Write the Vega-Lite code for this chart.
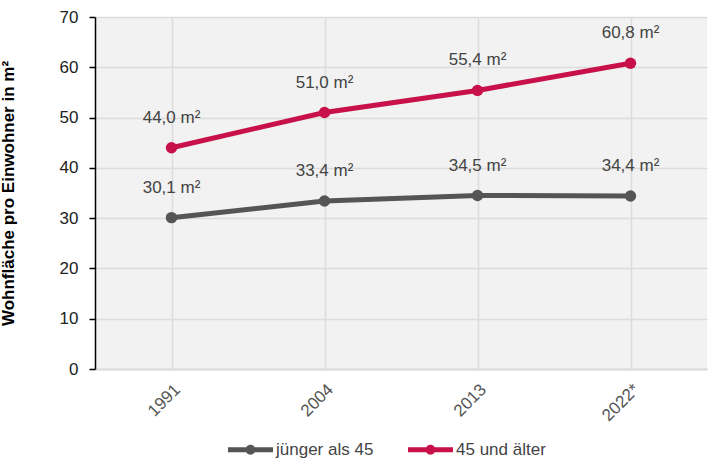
{
  "$schema": "https://vega.github.io/schema/vega-lite/v6.json",
  "width": 612,
  "height": 352,
  "autosize": {"type": "none"},
  "padding": {"left": 95, "top": 17, "right": 2, "bottom": 91},
  "background": "white",
  "config": {
    "font": "Liberation Sans",
    "view": {"fill": "#f2f2f2", "stroke": null},
    "axis": {"gridColor": "#dcdcdc", "gridWidth": 1.5}
  },
  "data": {
    "values": [
      {"jahr": "1991", "gruppe": "jünger als 45", "wert": 30.1, "label": "30,1 m²"},
      {"jahr": "2004", "gruppe": "jünger als 45", "wert": 33.4, "label": "33,4 m²"},
      {"jahr": "2013", "gruppe": "jünger als 45", "wert": 34.5, "label": "34,5 m²"},
      {"jahr": "2022*", "gruppe": "jünger als 45", "wert": 34.4, "label": "34,4 m²"},
      {"jahr": "1991", "gruppe": "45 und älter", "wert": 44.0, "label": "44,0 m²"},
      {"jahr": "2004", "gruppe": "45 und älter", "wert": 51.0, "label": "51,0 m²"},
      {"jahr": "2013", "gruppe": "45 und älter", "wert": 55.4, "label": "55,4 m²"},
      {"jahr": "2022*", "gruppe": "45 und älter", "wert": 60.8, "label": "60,8 m²"}
    ]
  },
  "encoding": {
    "x": {
      "field": "jahr",
      "type": "ordinal",
      "sort": null,
      "scale": {"type": "point", "padding": 0.5},
      "axis": {
        "title": null,
        "labelAngle": -45,
        "labelFontSize": 17,
        "labelColor": "#555555",
        "labelPadding": 12,
        "ticks": false,
        "domain": true,
        "domainColor": "#dcdcdc",
        "domainWidth": 2,
        "grid": true
      }
    },
    "y": {
      "field": "wert",
      "type": "quantitative",
      "scale": {"domain": [0, 70], "nice": false},
      "axis": {
        "title": "Wohnfläche pro Einwohner in m²",
        "titleFontSize": 17,
        "titleFontWeight": "bold",
        "titleColor": "#000000",
        "titlePadding": 42,
        "values": [0, 10, 20, 30, 40, 50, 60, 70],
        "labelFontSize": 17,
        "labelColor": "#222222",
        "labelPadding": 11,
        "domainColor": "#000000",
        "domainWidth": 1.5,
        "tickColor": "#000000",
        "tickSize": 6,
        "tickWidth": 1.5,
        "grid": true
      }
    },
    "color": {
      "field": "gruppe",
      "type": "nominal",
      "scale": {
        "domain": ["jünger als 45", "45 und älter"],
        "range": ["#555555", "#c8114a"]
      },
      "legend": {
        "title": null,
        "orient": "none",
        "direction": "horizontal",
        "legendX": 133,
        "legendY": 410,
        "padding": 0,
        "columnPadding": 34,
        "symbolType": "M-1,-0.11H1V0.11H-1Z M-0.22,0A0.22,0.22 0 1,1 0.22,0A0.22,0.22 0 1,1 -0.22,0Z",
        "symbolSize": 2025,
        "symbolStrokeWidth": 0,
        "symbolOpacity": 1,
        "labelFontSize": 17,
        "labelColor": "#444444",
        "labelOffset": 3,
        "encode": {
          "symbols": {"update": {"fill": {"scale": "color", "field": "value"}, "fillOpacity": {"value": 1}}}
        }
      }
    }
  },
  "layer": [
    {"mark": {"type": "line", "strokeWidth": 5}},
    {"mark": {"type": "point", "filled": true, "size": 130, "opacity": 1}},
    {
      "mark": {"type": "text", "dy": -30, "fontSize": 17, "color": "#444444"},
      "encoding": {"text": {"field": "label"}, "color": {"value": "#444444"}}
    }
  ]
}
